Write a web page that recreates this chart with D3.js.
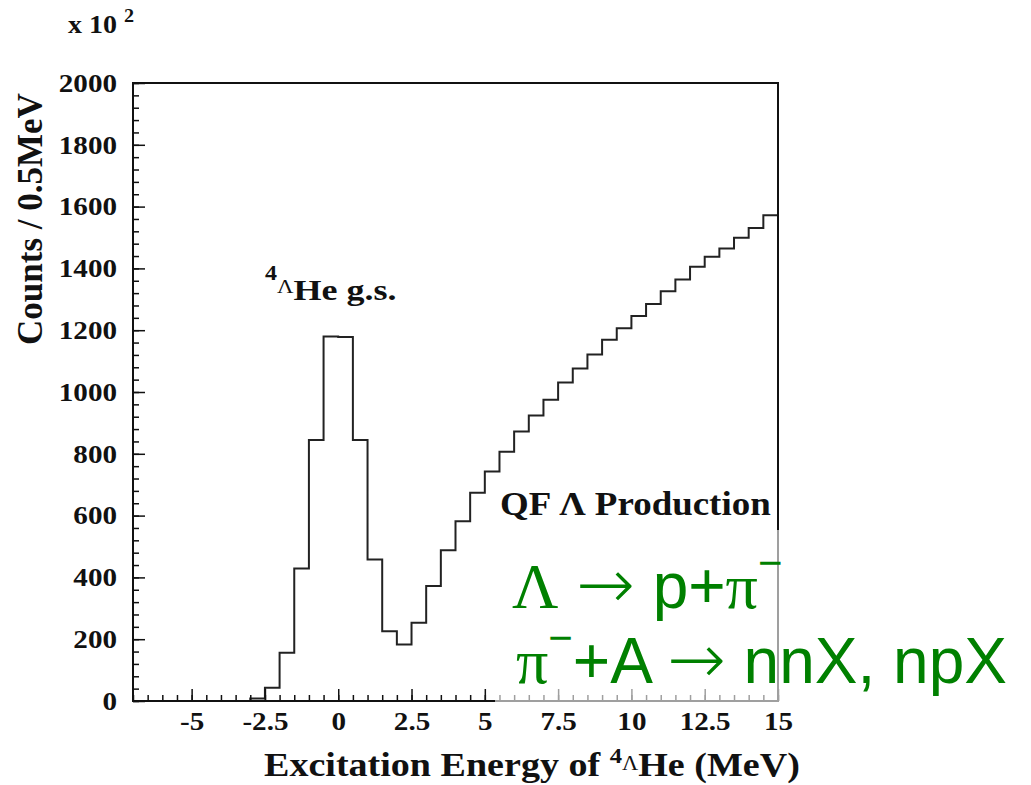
<!DOCTYPE html>
<html lang="en">
<head>
  <meta charset="UTF-8">
  <title>Excitation Energy of 4LHe</title>
  <script src="https://d3js.org/d3.v7.min.js"></script>
  <style>
    body { margin: 0; background: #fff; }
  </style>
</head>
<body>
  <svg width="1031" height="785"></svg>

  <script>
    // histogram: 0.5 MeV bins starting at -7 MeV
    const binStart = -7;
    const binWidth = 0.5;
    const counts = [
      0, 0, 0, 0, 0, 0, 0, 0,
      8, 43, 156, 429, 845, 1180, 1178, 845,
      458, 226, 183, 253, 372, 488, 582, 674,
      743, 807, 872, 924, 975, 1031, 1076, 1121,
      1169, 1206, 1246, 1285, 1326, 1364, 1405, 1438,
      1464, 1499, 1531, 1572
    ];

    const xMajorTicks = [-5, -2.5, 0, 2.5, 5, 7.5, 10, 12.5, 15];
    const xTickLabels = ["-5", "-2.5", "0", "2.5", "5", "7.5", "10", "12.5", "15"];
    const yMajorTicks = [0, 200, 400, 600, 800, 1000, 1200, 1400, 1600, 1800, 2000];

    const serif = "Liberation Serif, Times New Roman, serif";
    const sans = "Liberation Sans, Arial, sans-serif";
    const ink = "#111";
    const stretch = 1.12; // the picture's lettering is a bit wider than the font

    const svg = d3.select("svg");
    const margin = {top: 83, right: 253, bottom: 84, left: 133};
    const width = +svg.attr("width");
    const height = +svg.attr("height");

    const x = d3.scaleLinear().domain([-7, 15]).range([margin.left, width - margin.right]);
    const y = d3.scaleLinear().domain([0, 2000]).range([height - margin.bottom, margin.top]);

    // step line through the bin edges
    const pts = counts.map((c, i) => [binStart + i * binWidth, c]);
    pts.push([binStart + counts.length * binWidth, counts[counts.length - 1]]);

    const line = d3.line()
      .x(d => x(d[0]))
      .y(d => y(d[1]))
      .curve(d3.curveStepAfter);

    svg.append("path")
      .datum(pts)
      .attr("d", line)
      .attr("fill", "none")
      .attr("stroke", "#222")
      .attr("stroke-width", 2);

    // frame
    svg.append("rect")
      .attr("x", x(-7))
      .attr("y", y(2000))
      .attr("width", x(15) - x(-7))
      .attr("height", y(0) - y(2000))
      .attr("fill", "none")
      .attr("stroke", ink)
      .attr("stroke-width", 2);

    function styleTicks(g) {
      g.select(".domain").remove();
      g.selectAll("line").attr("stroke", ink).attr("stroke-width", 1.5);
      g.selectAll("text")
        .attr("font-family", serif)
        .attr("font-weight", "bold")
        .attr("font-size", 26)
        .attr("fill", ink);
    }

    // bottom axis, ticks pointing inward
    svg.append("g")
      .attr("transform", `translate(0,${y(0)})`)
      .call(d3.axisBottom(x).tickValues(d3.range(-7, 15.01, 0.5)).tickSize(-6).tickFormat(""))
      .call(styleTicks);

    svg.append("g")
      .attr("transform", `translate(0,${y(0)})`)
      .call(d3.axisBottom(x)
        .tickValues(xMajorTicks)
        .tickSize(-12).tickPadding(11)
        .tickFormat((d, i) => xTickLabels[i]))
      .call(styleTicks)
      .call(g => g.selectAll("text").attr("transform", `scale(${stretch},1)`));

    // left axis
    svg.append("g")
      .attr("transform", `translate(${x(-7)},0)`)
      .call(d3.axisLeft(y).tickValues(d3.range(0, 2001, 40)).tickSize(-6).tickFormat(""))
      .call(styleTicks);

    svg.append("g")
      .attr("transform", `translate(${x(-7)},0)`)
      .call(d3.axisLeft(y)
        .tickValues(yMajorTicks)
        .tickSize(-12).tickPadding(16)
        .tickFormat(d3.format("d")))
      .call(styleTicks)
      .call(g => g.selectAll("text")
        .attr("transform", `scale(${stretch},1)`)
        .attr("x", -16 / stretch));

    // text placed at (px, py) and widened a little
    function label(px, py, sx) {
      return svg.append("g")
        .attr("transform", `translate(${px},${py}) scale(${sx},1)`)
        .append("text")
        .attr("font-family", serif)
        .attr("font-weight", "bold")
        .attr("fill", ink);
    }

    // exponent label
    const expo = label(68, 33, stretch).attr("font-size", 25);
    expo.append("tspan").text("x 10 ");
    expo.append("tspan").attr("dy", -11).attr("font-size", 18).text("2");

    // axis titles
    svg.append("text")
      .attr("transform", `translate(42,${(y(0) + y(2000)) / 2 - 173}) rotate(-90)`)
      .attr("text-anchor", "middle")
      .attr("font-family", serif)
      .attr("font-weight", "bold").attr("font-size", 35).attr("fill", ink)
      .text("Counts / 0.5MeV");

    const xt = label(264, 776, stretch).attr("font-size", 34);
    xt.append("tspan").text("Excitation Energy of ");
    xt.append("tspan").attr("dy", -13).attr("font-size", 22).text("4");
    xt.append("tspan").attr("dy", 7).attr("font-size", 20).attr("font-weight", "normal").text("Λ");
    xt.append("tspan").attr("dy", 6).text("He (MeV)");

    // peak label
    const gs = label(265, 300, 1.2).attr("font-size", 30);
    gs.append("tspan").attr("dy", -20).attr("font-size", 20).text("4");
    gs.append("tspan").attr("dy", 13).attr("font-size", 19).attr("font-weight", "normal").text("Λ");
    gs.append("tspan").attr("dy", 7).text("He g.s.");

    label(500, 515, stretch).attr("font-size", 33).text("QF Λ Production");

    // translucent box behind the decay note
    svg.append("rect")
      .attr("x", 495).attr("y", 530)
      .attr("width", 536).attr("height", 173)
      .attr("fill", "#fff").attr("fill-opacity", 0.6);

    const green = "#008000";
    function greenLine(px, py) {
      return svg.append("text")
        .attr("x", px).attr("y", py)
        .attr("font-family", sans).attr("font-size", 64).attr("fill", green);
    }
    function arrow(t) {
      t.append("tspan").text(" ");
      t.append("tspan")
        .attr("font-family", "DejaVu Sans").attr("font-weight", 200)
        .attr("font-size", 70).text("→");
      t.append("tspan").text(" ");
    }

    const l1 = greenLine(512, 608);
    l1.append("tspan").attr("font-family", serif).text("Λ");
    arrow(l1);
    l1.append("tspan").text("p+");
    l1.append("tspan").attr("font-family", serif).text("π");
    l1.append("tspan").attr("dy", -31).attr("font-size", 42).text("−");

    const l2 = greenLine(516, 683);
    l2.append("tspan").attr("font-family", serif).text("π");
    l2.append("tspan").attr("dy", -31).attr("font-size", 42).text("−");
    l2.append("tspan").attr("dy", 31).text("+A");
    arrow(l2);
    l2.append("tspan").text("nnX, npX");
  </script>
</body>
</html>
